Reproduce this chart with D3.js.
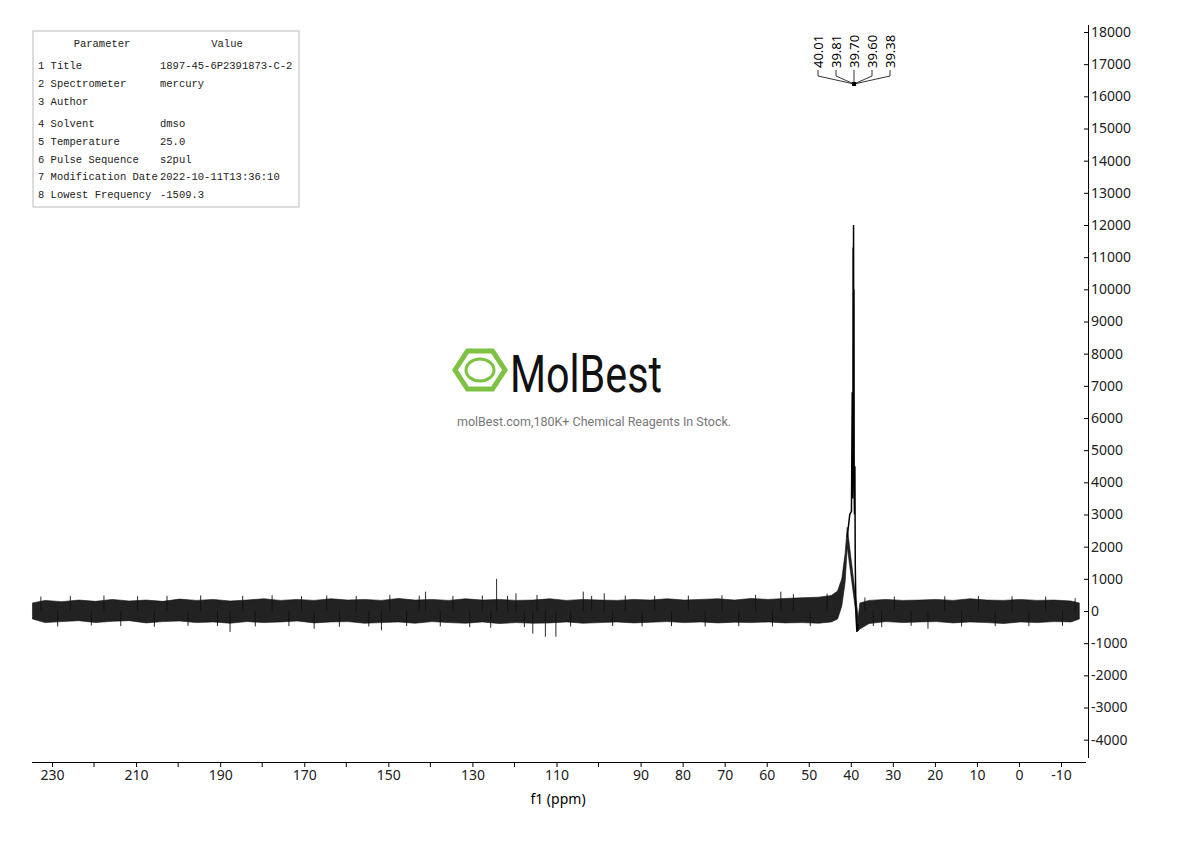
<!DOCTYPE html>
<html><head><meta charset="utf-8">
<script src="https://cdn.jsdelivr.net/npm/d3@7/dist/d3.min.js"></script>
<style>body{margin:0;background:#fff}</style>
</head><body>
<script>
var w = 1190, h = 841;

// parameter table
var paramNames = ["1 Title", "2 Spectrometer", "3 Author", "4 Solvent", "5 Temperature",
  "6 Pulse Sequence", "7 Modification Date", "8 Lowest Frequency"];
var paramValues = ["1897-45-6P2391873-C-2", "mercury", "", "dmso", "25.0", "s2pul",
  "2022-10-11T13:36:10", "-1509.3"];

// axis ticks
var xTicks = [230, 210, 190, 170, 150, 130, 110, 90, 80, 70, 60, 50, 40, 30, 20, 10, 0, -10];
var xMinor = [220, 200, 180, 160, 140, 120, 100];
var yTicks = [-4000, -3000, -2000, -1000, 0, 1000, 2000, 3000, 4000, 5000, 6000, 7000, 8000,
  9000, 10000, 11000, 12000, 13000, 14000, 15000, 16000, 17000, 18000];

// peak picks
var peakLabels = ["40.01", "39.81", "39.70", "39.60", "39.38"];

// baseline noise envelope: [ppm, top, bottom]
var noiseBand = [
  [235, 250, -250], [232, 330, -360], [228, 290, -330], [224, 340, -300], [220, 300, -360],
  [216, 360, -320], [212, 310, -300], [208, 340, -370], [204, 300, -330], [200, 370, -310],
  [196, 330, -360], [192, 360, -340], [188, 310, -380], [184, 340, -330], [180, 380, -360],
  [176, 330, -340], [172, 360, -310], [168, 330, -370], [164, 380, -340], [160, 340, -330],
  [156, 360, -380], [152, 330, -360], [148, 390, -340], [144, 340, -380], [140, 360, -330],
  [136, 330, -360], [132, 380, -380], [128, 340, -340], [124, 360, -390], [120, 330, -360],
  [116, 340, -380], [112, 380, -370], [108, 330, -340], [104, 360, -380], [100, 340, -360],
  [96, 330, -340], [92, 360, -370], [88, 340, -350], [84, 380, -330], [80, 340, -360],
  [76, 360, -340], [72, 380, -370], [68, 340, -350], [64, 390, -360], [60, 360, -340],
  [56, 390, -370], [52, 410, -360], [48, 430, -380], [45, 480, -340], [43.5, 620, -250],
  [42.5, 1000, 150], [41.7, 1800, 900], [41.2, 2600, 2000],
  [38.6, -200, -620], [38.2, 250, -560], [36, 330, -390], [32, 360, -330], [28, 330, -360],
  [24, 340, -340], [20, 360, -330], [16, 330, -370], [12, 380, -340], [8, 340, -360],
  [4, 330, -390], [0, 360, -340], [-4, 330, -360], [-8, 340, -330], [-12, 310, -340], [-14, 250, -250]
];

// spikes above and below the band: [ppm, intensity]
var spikes = [[124.6, 1000], [113, -800], [110.5, -800], [116, -700], [188, -650], [141.5, 600],
  [104, 600], [99, 550], [168, -550], [57, 600], [33, -500], [22, -550], [120, 550], [152, -600],
  [233, 450], [229, -480], [226, 470], [221, -450], [218, 480], [214, -470], [210, 460], [206, -490],
  [203, 470], [198, -460], [195, 480], [191, -470], [185, 470], [182, -480], [178, 490], [174, -470],
  [171, 460], [165, 480], [162, -490], [158, 470], [155, -480], [150, 500], [146, -470], [143, 480],
  [138, -480], [135, 470], [131, -500], [128, 480], [126, -520], [122, 470], [118, -500], [115, 500],
  [107, -480], [102, 470], [97, -470], [94, 480], [90, -480], [87, 470], [83, -470], [79, 480],
  [75, -480], [71, 490], [67, -470], [63, 500], [59, -480], [54, 520], [50, -470], [46, 540],
  [37, 420], [35, -470], [30, 450], [26, -460], [18, 460], [14, -480], [10, 470], [6, -470],
  [2, 460], [-2, -470], [-6, 450], [-10, -460], [-13, 400]];

// solvent multiplet profile: [ppm, intensity]
var peak = [[41.2, 2300], [40.6, 3000], [40.2, 3100], [40.01, 6800], [39.95, 3500], [39.86, 4500],
  [39.81, 11300], [39.76, 5000], [39.70, 12000], [39.65, 5200], [39.60, 10000], [39.55, 3600],
  [39.48, 3000], [39.38, 4500], [39.3, 1500], [39.1, -200], [38.9, -650], [38.6, -400]];

var x = d3.scaleLinear().domain([230, -10]).range([52, 1061]);
var y = d3.scaleLinear().domain([0, 18000]).range([611, 32]);
var fmt = function(d) { return String(d); };

var svg = d3.select("body").append("svg").attr("width", w).attr("height", h);

// noise band
svg.append("path")
  .datum(noiseBand)
  .attr("d", d3.area().x(function(d) { return x(d[0]) + 1.5; })
    .y0(function(d) { return y(d[2]); }).y1(function(d) { return y(d[1]); }))
  .attr("fill", "#222").attr("stroke", "#111").attr("stroke-width", 0.6);

svg.selectAll("line.spike").data(spikes).enter().append("line")
  .attr("x1", function(d) { return x(d[0]) + 1.5; }).attr("x2", function(d) { return x(d[0]) + 1.5; })
  .attr("y1", y(0)).attr("y2", function(d) { return y(d[1]); })
  .attr("stroke", "#111").attr("stroke-width", 0.9);

svg.append("path").datum(peak)
  .attr("d", d3.line().x(function(d) { return x(d[0]) + 1.5; }).y(function(d) { return y(d[1]); }))
  .attr("fill", "none").attr("stroke", "#000").attr("stroke-width", 1.5);

// x axis
var xAxis = d3.axisBottom(x).tickValues(xTicks).tickSize(5).tickFormat(fmt);
var gx = svg.append("g").attr("transform", "translate(0,762)").call(xAxis);
gx.select(".domain").attr("d", "M32,0.5H1086");
gx.selectAll("text").attr("font-family", "Noto Sans, sans-serif").attr("font-size", 14).attr("fill", "#222");
gx.selectAll("line.minor").data(xMinor).enter().append("line").attr("class", "minor")
  .attr("x1", function(d) { return x(d); }).attr("x2", function(d) { return x(d); })
  .attr("y1", 0).attr("y2", 5).attr("stroke", "#000");
svg.append("text").attr("x", 558).attr("y", 804).attr("text-anchor", "middle")
  .attr("font-family", "Noto Sans, sans-serif").attr("font-size", 14).text("f1 (ppm)");

// y axis
var yAxis = d3.axisRight(y).tickValues(yTicks).tickSize(-4).tickPadding(3).tickFormat(fmt);
var gy = svg.append("g").attr("transform", "translate(1088,0)").call(yAxis);
gy.select(".domain").attr("d", "M0.5,25V758");
gy.selectAll("text").attr("font-family", "Noto Sans, sans-serif").attr("font-size", 14).attr("fill", "#222");

// peak labels
var lx = d3.scaleLinear().domain([0, peakLabels.length - 1]).range([818, 890]);
var apex = [x(39.7) + 2, 84];
var pl = svg.append("g");
peakLabels.forEach(function(t, i) {
  var px = lx(i);
  pl.append("text").attr("transform", "translate(" + (px + 5) + ",68) rotate(-90)")
    .attr("font-family", "Noto Sans, sans-serif").attr("font-size", 13).text(t);
  pl.append("path").attr("d", "M" + px + ",70V76L" + apex[0] + "," + apex[1])
    .attr("fill", "none").attr("stroke", "#000").attr("stroke-width", 0.8);
});
pl.append("rect").attr("x", apex[0] - 2).attr("y", apex[1] - 2).attr("width", 4).attr("height", 4);

// parameter table
var tb = svg.append("g").attr("font-family", "Liberation Mono, DejaVu Sans Mono, monospace").attr("font-size", 10.5).attr("fill", "#222");
tb.append("rect").attr("x", 33).attr("y", 31).attr("width", 266).attr("height", 176)
  .attr("fill", "#fff").attr("stroke", "#bbb");
tb.append("text").attr("x", 102).attr("y", 47).attr("text-anchor", "middle").text("Parameter");
tb.append("text").attr("x", 227).attr("y", 47).attr("text-anchor", "middle").text("Value");
var rowY = [69, 87, 105, 127, 145, 163, 180, 198];
paramNames.forEach(function(n, i) {
  tb.append("text").attr("x", 38).attr("y", rowY[i]).text(n);
  tb.append("text").attr("x", 160).attr("y", rowY[i]).text(paramValues[i]);
});

// watermark
var lg = svg.append("g").attr("transform", "translate(480,370)");
var hex = d3.range(6).map(function(k) { var a = Math.PI / 3 * k; return [25 * Math.cos(a), 22 * Math.sin(a)]; });
lg.append("path").attr("d", "M" + hex.join("L") + "Z").attr("fill", "none").attr("stroke", "#7dc243").attr("stroke-width", 5);
lg.append("ellipse").attr("rx", 14).attr("ry", 11).attr("fill", "none").attr("stroke", "#7dc243").attr("stroke-width", 3);
lg.append("text").attr("x", 30).attr("y", 22).attr("font-family", "Roboto, sans-serif")
  .attr("font-size", 52).attr("textLength", 152).attr("lengthAdjust", "spacingAndGlyphs").attr("fill", "#111").text("MolBest");
svg.append("text").attr("x", 594).attr("y", 426).attr("text-anchor", "middle")
  .attr("font-family", "Roboto, sans-serif").attr("font-size", 12.5).attr("fill", "#777")
  .text("molBest.com,180K+ Chemical Reagents In Stock.");
</script>
</body></html>
